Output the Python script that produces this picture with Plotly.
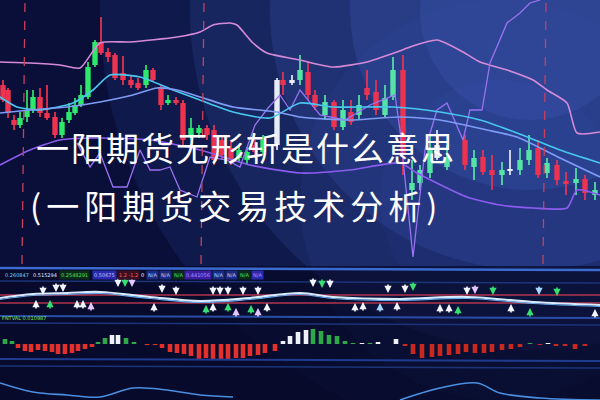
import plotly.graph_objects as go

# ---------------- DATA ----------------
# candles: time position, open, high, low, close (price units)
candle_t = [3, 8, 14, 20, 27, 33, 40, 47, 55, 62, 69, 75, 81, 88, 95, 101, 108, 115, 123, 131,
            138, 146, 153, 161, 168, 176, 183, 191, 199, 207, 214, 222, 231, 239, 247, 255, 263,
            277, 283, 292, 300, 308, 315, 325, 334, 343, 351, 359, 367, 376, 385, 393, 403, 412,
            420, 430, 437, 447, 465, 474, 483, 492, 502, 510, 520, 529, 538, 547, 557, 566, 576,
            585, 595]
candle_open = [215, 210, 180, 175, 183, 190, 203, 187, 183, 165, 180, 187, 195, 203, 235, 258, 248, 245, 227, 220,
               217, 215, 230, 213, 197, 200, 197, 165, 167, 172, 170, 160, 152, 142, 140, 155, 148,
               155, 220, 217, 220, 228, 205, 185, 198, 173, 188, 185, 212, 208, 185, 203, 230, 110,
               117, 127, 142, 133, 160, 133, 143, 130, 125, 129, 130, 140, 152, 127, 135, 119, 117,
               121, 105]
candle_high = [220, 212, 185, 188, 210, 210, 212, 215, 188, 182, 197, 202, 215, 238, 260, 283, 252, 247, 244, 225,
               222, 235, 232, 215, 205, 203, 200, 182, 175, 175, 175, 165, 160, 155, 153, 160, 165,
               222, 228, 225, 245, 238, 210, 205, 200, 200, 200, 205, 230, 220, 215, 243, 245, 140,
               135, 165, 170, 155, 165, 150, 150, 145, 138, 150, 152, 165, 160, 142, 140, 128, 132,
               125, 118]
candle_low = [198, 182, 170, 172, 178, 187, 183, 180, 162, 162, 177, 185, 193, 201, 233, 245, 238, 220, 215, 212,
              210, 212, 218, 190, 195, 195, 155, 160, 162, 160, 135, 140, 135, 138, 135, 142, 145,
              150, 205, 215, 215, 200, 190, 180, 170, 170, 175, 180, 200, 185, 182, 200, 125, 100,
              110, 122, 140, 130, 130, 120, 125, 110, 115, 125, 125, 135, 122, 122, 115, 105, 105,
              100, 100]
candle_close = [200, 187, 175, 182, 190, 203, 187, 182, 165, 178, 188, 195, 205, 233, 258, 247, 243, 222, 220, 215,
                212, 230, 220, 195, 200, 197, 160, 172, 172, 165, 140, 145, 140, 150, 148, 148, 160,
                220, 215, 220, 230, 205, 193, 198, 173, 190, 178, 195, 205, 190, 202, 230, 145, 117,
                130, 150, 155, 143, 135, 142, 128, 125, 130, 131, 140, 150, 125, 137, 120, 116, 121,
                107, 110]
white_candle_t = [277, 292, 437, 510]

# moving-average / band lines (time, price)
upper_band_t = [0, 30, 60, 80, 100, 130, 177, 200, 213, 230, 237, 253, 267, 300, 333, 367, 397, 410,
                437, 463, 480, 507, 533, 547, 567, 577, 600]
upper_band_v = [238, 237, 235, 232, 257, 258, 263, 268, 275, 277, 275, 257, 247, 240, 233, 238, 248, 253,
                260, 248, 238, 230, 220, 210, 197, 167, 168]
ma_fast_t = [0, 17, 40, 73, 93, 110, 140, 173, 200, 233, 270, 300, 333, 393, 440, 480, 517, 560, 600]
ma_fast_v = [203, 193, 190, 197, 210, 225, 223, 210, 200, 188, 182, 197, 193, 193, 188, 180, 167, 150, 137]
ma_slow_t = [0, 30, 67, 100, 133, 157, 177, 200, 233, 277, 300, 350, 400, 440, 487, 517, 560, 600]
ma_slow_v = [187, 190, 193, 198, 205, 212, 210, 203, 193, 188, 183, 180, 183, 180, 170, 163, 142, 123]
lower_band_t = [0, 30, 60, 100, 150, 200, 250, 300, 350, 400, 417, 467, 500, 533, 567, 577, 600]
lower_band_v = [135, 150, 160, 162, 160, 150, 135, 127, 130, 137, 127, 103, 95, 92, 92, 110, 105]
osc_t = [77, 90, 100, 113, 127, 140, 150, 160, 170, 180, 197, 210, 227, 240, 255, 268, 280, 290,
         300, 320, 345, 370, 395, 400, 413, 425, 437, 447, 463, 470, 482, 490, 507, 520, 530, 540]
osc_v = [157, 133, 147, 113, 113, 150, 130, 130, 133, 110, 103, 143, 140, 133, 175, 192, 205, 190,
         210, 185, 180, 195, 205, 170, 43, 150, 190, 197, 160, 190, 190, 237, 277, 287, 297, 300]
marker_t = [22, 201, 543]

# signal panel
signal_t = [0, 33, 67, 100, 150, 200, 250, 300, 333, 400, 467, 533, 600]
signal_v = [1, 5, 6, 7, 2, -2, 1, 6, 2, 0, 2, -3, -6]
band_levels = [4, -4]
arrow_up_t = [36, 50, 77, 83, 91, 154, 206, 213, 228, 236, 251, 258, 267, 355, 363, 380, 397, 440,
              449, 458, 511, 530, 595]
arrow_up_v = [-1, -1, -1, -1, -3, -4, -6, -4, -4, -9, -6, -9, -4, -4, -3, -4, -3, -5,
              -5, -7, -5, -9, -10]
arrow_up_kind = ["w", "g", "w", "w", "p", "w", "g", "w", "g", "p", "g", "p", "w", "w", "w", "b", "w", "w",
                 "w", "g", "w", "g", "w"]
arrow_dn_t = [43, 56, 63, 118, 125, 132, 162, 176, 213, 220, 228, 243, 258, 313, 322, 330, 388, 405,
              413, 467, 475, 493, 539, 557]
arrow_dn_v = [4, 7, 7, 12, 12, 12, 6, 4, 4, 4, 4, 4, 4, 12, 11, 11, 6, 6,
              8, 4, 5, 4, 4, 3]
arrow_dn_kind = ["w", "w", "w", "w", "g", "p", "w", "w", "w", "w", "w", "w", "w", "w", "g", "w", "w", "w",
                 "g", "w", "p", "g", "b", "g"]

# histogram panel
hist_t = [5, 12, 18, 25, 31, 38, 45, 52, 58, 65, 72, 78, 85, 92, 98, 105, 112, 118, 126, 134,
          147, 155, 162, 170, 177, 184, 191, 199, 206, 213, 221, 228, 236, 243, 250, 258, 265, 275,
          283, 290, 298, 306, 313, 321, 329, 337, 345, 353, 362, 370, 378, 396,
          405, 413, 422, 432, 440, 449, 458, 466, 475, 484, 492, 502, 511, 520, 530, 540, 548, 556,
          565, 575, 585]
hist_v = [5, 3, -4, -7, -8, -6, -7, -8, -10, -10, -9, -7, -5, -3, 2, 6, 9, 9, 6, 2,
          -1, -1, -4, -8, -9, -10, -12, -15, -14, -17, -15, -15, -14, -14, -12, -11, -9, -7,
          3, 8, 12, 14, 15, 13, 9, 8, 3, 1, 1, 1, 2, 5,
          -2, -10, -14, -13, -12, -11, -10, -8, -9, -9, -8, -6, -5, -3, 1, -1, 1, -2,
          -2, -5, -2]
hist_bright_t = [112, 118, 283, 290, 298, 306, 362, 378, 396, 548]

# bottom curve
curve_t = [0, 33, 67, 100, 133, 167, 200, 233, None, 400, 440, 477, 500, 540, 600]
curve_v = [17, 8, 5, 3, 12, 10, 5, 3, None, 0, 12, 17, 7, 2, 0]

title_line1 = "一阳期货无形斩是什么意思"
title_line2 = "(一阳期货交易技术分析)"
label_row1 = ["0.260847", "0.515294", "0.2548291", "0.50675", "1.2 -1.2", "0", "N/A", "N/A", "N/A",
              "0.441056", "N/A", "N/A", "N/A", "N/A"]
label_row2 = "FNTVAL 0.010987"

# ---------------- FIGURE ----------------
fig = go.Figure()

RED = "#ee3350"
GREEN_L = "#2de86a"
GREEN_R = "#56e4a6"
WHITE = "#e8ecf4"


def candle_group(sel, inc_color, dec_color):
    xs = [candle_t[i] for i in sel]
    o = [candle_open[i] for i in sel]
    c = [candle_close[i] for i in sel]
    h = [candle_high[i] for i in sel]
    lo = [candle_low[i] for i in sel]
    cols = [inc_color if cc >= oo else dec_color for oo, cc in zip(o, c)]
    fig.add_trace(go.Bar(x=xs, y=[hh - ll for hh, ll in zip(h, lo)], base=lo, width=1.0,
                         marker=dict(color=cols, line=dict(width=0)), opacity=0.85,
                         showlegend=False, hoverinfo="skip"))
    fig.add_trace(go.Bar(x=xs, y=[max(abs(cc - oo), 1.5) for oo, cc in zip(o, c)],
                         base=[min(oo, cc) for oo, cc in zip(o, c)], width=5.4,
                         marker=dict(color=cols, line=dict(width=0)),
                         showlegend=False, hoverinfo="skip"))


# lines behind candles
fig.add_trace(go.Scatter(x=upper_band_t, y=upper_band_v, mode="lines",
                         line=dict(color="#d58ad8", width=1.6, shape="spline", smoothing=0.6),
                         showlegend=False, hoverinfo="skip"))
fig.add_trace(go.Scatter(x=lower_band_t, y=lower_band_v, mode="lines",
                         line=dict(color="#8c5cf0", width=1.6, shape="spline", smoothing=0.6),
                         showlegend=False, hoverinfo="skip"))
fig.add_trace(go.Scatter(x=osc_t, y=osc_v, mode="lines",
                         line=dict(color="#9a72f2", width=1.3),
                         showlegend=False, hoverinfo="skip"))

normal = [i for i, t in enumerate(candle_t) if t not in white_candle_t]
candle_group([i for i in normal if candle_t[i] < 300], GREEN_L, RED)
candle_group([i for i in normal if candle_t[i] >= 300], GREEN_R, RED)
candle_group([i for i, t in enumerate(candle_t) if t in white_candle_t], WHITE, WHITE)

fig.add_trace(go.Scatter(x=ma_fast_t, y=ma_fast_v, mode="lines",
                         line=dict(color="#48c8f0", width=1.6, shape="spline", smoothing=0.6),
                         showlegend=False, hoverinfo="skip"))
fig.add_trace(go.Scatter(x=ma_slow_t, y=ma_slow_v, mode="lines",
                         line=dict(color="#7f9cf5", width=1.6, shape="spline", smoothing=0.6),
                         showlegend=False, hoverinfo="skip"))

# signal panel
for lv in band_levels:
    fig.add_trace(go.Scatter(x=[0, 600], y=[lv, lv], mode="lines", yaxis="y2",
                             line=dict(color="#b0344c", width=1.4), showlegend=False, hoverinfo="skip"))
fig.add_trace(go.Scatter(x=signal_t, y=signal_v, mode="lines", yaxis="y2",
                         line=dict(color="#d8ecff", width=2.2, shape="spline"),
                         showlegend=False, hoverinfo="skip"))
fig.add_trace(go.Scatter(x=signal_t, y=[v - 1.5 for v in signal_v], mode="lines", yaxis="y2",
                         line=dict(color="#6aa8e8", width=1.2, shape="spline"),
                         showlegend=False, hoverinfo="skip"))
kind_col = {"w": "#f4f6ff", "g": "#36e070", "p": "#e6c8ff", "b": "#a8d8ff"}

# histogram panel
hist_cols = []
for t, v in zip(hist_t, hist_v):
    if t in hist_bright_t:
        hist_cols.append("#eef2f8")
    elif v >= 0:
        hist_cols.append("#2fa84a")
    else:
        hist_cols.append("#e2302c" if t < 300 else "#c8281e")
fig.add_trace(go.Bar(x=hist_t, y=hist_v, yaxis="y3", width=4.6,
                     marker=dict(color=hist_cols, line=dict(width=0)),
                     showlegend=False, hoverinfo="skip"))

fig.add_trace(go.Scatter(x=curve_t, y=curve_v, mode="lines", yaxis="y4",
                         line=dict(color="#4a8ee0", width=1.6, shape="spline"),
                         connectgaps=False, showlegend=False, hoverinfo="skip"))

# ---------------- LAYOUT ----------------
shapes = []
# glow of the background
for r, op in [(430, 0.10), (340, 0.14), (260, 0.16), (180, 0.17), (110, 0.15)]:
    cx, cy = 530, 10
    shapes.append(dict(type="circle", xref="paper", yref="paper", layer="below",
                       x0=(cx - r) / 600, x1=(cx + r) / 600, y0=(400 - cy - r) / 400, y1=(400 - cy + r) / 400,
                       fillcolor="#5078e0", opacity=op, line=dict(width=0)))
for r, op in [(200, 0.08), (120, 0.08)]:
    cx, cy = 500, 200
    shapes.append(dict(type="circle", xref="paper", yref="paper", layer="below",
                       x0=(cx - r) / 600, x1=(cx + r) / 600, y0=(400 - cy - r) / 400, y1=(400 - cy + r) / 400,
                       fillcolor="#3a5cc8", opacity=op, line=dict(width=0)))
shapes.append(dict(type="rect", xref="paper", yref="paper", layer="below", x0=0, x1=1, y0=0, y1=0.335,
                   fillcolor="#050925", opacity=0.7, line=dict(width=0)))
# panel separators
for py, col, w in [(268, "#3b6ad0", 2.5), (281, "#1c3478", 1.5), (316, "#2a4ea8", 2), (323, "#1c3478", 1.5),
                   (359, "#1f3c90", 2), (366, "#1c3478", 1.5)]:
    shapes.append(dict(type="line", xref="paper", yref="paper", x0=0, x1=1,
                       y0=(400 - py) / 400, y1=(400 - py - 2) / 400, line=dict(color=col, width=w)))
# dashed time markers
for t in marker_t:
    shapes.append(dict(type="line", xref="x", yref="paper", x0=t, x1=t + 3, y0=0.34, y1=1,
                       line=dict(color="#c8405a", width=1.3, dash="dash")))

annotations = [
    dict(text='<span style="letter-spacing:2px">' + title_line1 + '</span>',
         x=34 / 600, y=(400 - 147) / 400, xref="paper", yref="paper",
         xanchor="left", yanchor="middle", showarrow=False,
         font=dict(family="Noto Sans CJK SC", size=33, color="#ffffff")),
    dict(text='<span style="letter-spacing:5px">' + title_line2 + '</span>',
         x=28 / 600, y=(400 - 205) / 400, xref="paper", yref="paper",
         xanchor="left", yanchor="middle", showarrow=False,
         font=dict(family="Noto Sans CJK SC", size=33, color="#ffffff")),
]
# signal arrows (tip at the data point, shaft behind)
for t, v, k in zip(arrow_up_t, arrow_up_v, arrow_up_kind):
    annotations.append(dict(x=t, y=v, xref="x", yref="y2", ax=0, ay=10, text="", showarrow=True,
                            arrowhead=2, arrowsize=0.9, arrowwidth=1.6, arrowcolor=kind_col[k]))
for t, v, k in zip(arrow_dn_t, arrow_dn_v, arrow_dn_kind):
    annotations.append(dict(x=t, y=v, xref="x", yref="y2", ax=0, ay=-10, text="", showarrow=True,
                            arrowhead=2, arrowsize=0.9, arrowwidth=1.6, arrowcolor=kind_col[k]))

lab_x = [3, 31, 59, 92, 117, 139, 146, 159, 172, 184, 212, 225, 238, 251]
lab_col = ["#7ad8ff", "#e8e8ff", "#4ee060", "#c0c8ff", "#ff5a5a", "#ffffff", "#c0d0ff", "#c0d0ff",
           "#4ee060", "#b090ff", "#c0d0ff", "#c0d0ff", "#4ee060", "#b090ff"]
lab_bg = ["rgba(0,0,0,0)", "rgba(0,0,0,0)", "#0c2a18", "#2a2ab0", "#3a1020", "rgba(0,0,0,0)", "#1a2a80",
          "#1a2a80", "#0c2a18", "#3a20a0", "#1a2a80", "#1a2a80", "#0c2a18", "#2a2ab0"]
for txt, xx, c, bg in zip(label_row1, lab_x, lab_col, lab_bg):
    annotations.append(dict(text=txt, x=xx / 600, y=(400 - 275) / 400, xref="paper", yref="paper",
                            xanchor="left", yanchor="middle", showarrow=False, bgcolor=bg, borderpad=1,
                            font=dict(family="DejaVu Sans", size=5, color=c)))
annotations.append(dict(text=label_row2, x=0, y=(400 - 318) / 400, xref="paper", yref="paper",
                        xanchor="left", yanchor="middle", showarrow=False,
                        font=dict(family="DejaVu Sans", size=5, color="#7af04a")))

ax_common = dict(visible=False, showgrid=False, zeroline=False, fixedrange=True)
fig.update_layout(
    width=600, height=400, margin=dict(l=0, r=0, t=0, b=0),
    paper_bgcolor="#0a0f3a", plot_bgcolor="rgba(0,0,0,0)",
    barmode="overlay", showlegend=False,
    xaxis=dict(range=[0, 600], **ax_common),
    yaxis=dict(domain=[0.3375, 1], range=[35, 300], **ax_common),
    yaxis2=dict(domain=[0.2125, 0.2925], range=[-16, 16], anchor="x", **ax_common),
    yaxis3=dict(domain=[0.1, 0.1925], range=[-16, 21], anchor="x", **ax_common),
    yaxis4=dict(domain=[0, 0.08], range=[0, 32], anchor="x", **ax_common),
    shapes=shapes, annotations=annotations,
)

fig.write_html("out.html", config={"displayModeBar": False},
               post_script="document.body.style.margin='0';document.body.style.overflow='hidden';")
